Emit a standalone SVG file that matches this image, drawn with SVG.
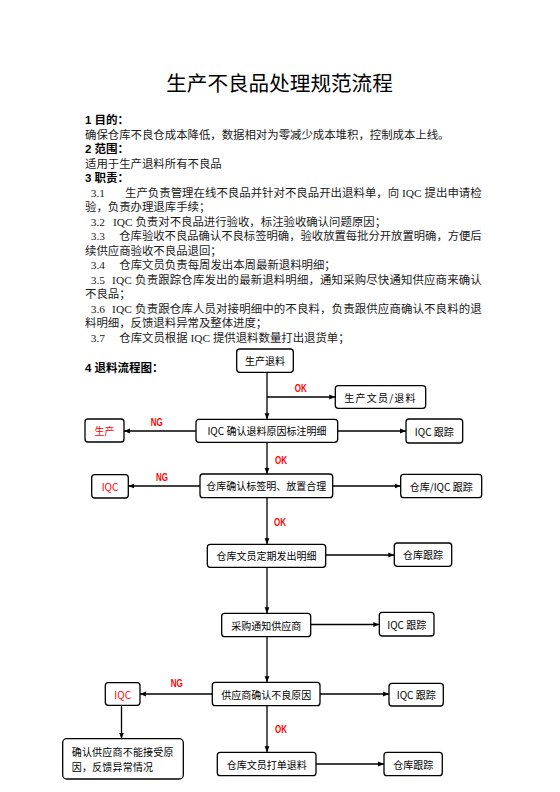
<svg xmlns="http://www.w3.org/2000/svg" width="560" height="792" viewBox="0 0 560 792">
<style>
.title{font-family:"Noto Sans CJK SC",sans-serif;font-size:20.6px;fill:#000;}
.h{font-family:"Liberation Sans","Noto Sans CJK SC",sans-serif;font-size:11.5px;font-weight:bold;fill:#000;}
.b{font-family:"Liberation Serif","Noto Sans CJK SC",serif;font-size:11.4px;fill:#1a1a1a;}
.box{fill:#fff;stroke:#000;stroke-width:1.3;}
.t{font-family:"Noto Sans CJK SC",sans-serif;font-size:10px;fill:#000;text-anchor:middle;dominant-baseline:central;}
.t.l{text-anchor:start;letter-spacing:0.2px;}
.red{fill:#ff0000;}
.lbl{font-family:"Liberation Sans",sans-serif;font-size:10.5px;font-weight:bold;fill:#ff0000;text-anchor:middle;dominant-baseline:central;}
.c{stroke:#000;stroke-width:1.3;fill:none;marker-end:url(#ah);}
</style>
<defs>
<marker id="ah" viewBox="0 0 10 10" refX="10" refY="5" markerUnits="userSpaceOnUse" markerWidth="6" markerHeight="6" orient="auto">
<path d="M0,1 L10,5 L0,9 Z" fill="#000"/>
</marker>
</defs>
<rect width="560" height="792" fill="#fff"/>

<text class="title" x="279.5" y="90.5" text-anchor="middle">生产不良品处理规范流程</text>

<g id="text-body">
<text class="h" x="85" y="124.3">1 目的：</text>
<text class="b" x="85" y="138.8">确保仓库不良仓成本降低，数据相对为零减少成本堆积，控制成本上线。</text>
<text class="h" x="85" y="153.3">2 范围：</text>
<text class="b" x="85" y="167.8">适用于生产退料所有不良品</text>
<text class="h" x="85" y="182.3">3 职责：</text>
<text class="b" x="90.7" y="196.8">3.1</text>
<text class="b" x="125" y="196.8" textLength="356.7" lengthAdjust="spacing">生产负责管理在线不良品并针对不良品开出退料单，向 IQC 提出申请检</text>
<text class="b" x="85" y="211.3">验，负责办理退库手续；</text>
<text class="b" x="90.7" y="225.8">3.2</text>
<text class="b" x="113" y="225.8">IQC 负责对不良品进行验收，标注验收确认问题原因；</text>
<text class="b" x="90.7" y="240.3">3.3</text>
<text class="b" x="119.3" y="240.3" textLength="362.4" lengthAdjust="spacingAndGlyphs">仓库验收不良品确认不良标签明确，验收放置每批分开放置明确，方便后</text>
<text class="b" x="85" y="254.8">续供应商验收不良品退回；</text>
<text class="b" x="90.7" y="269.3">3.4</text>
<text class="b" x="119.3" y="269.3">仓库文员负责每周发出本周最新退料明细；</text>
<text class="b" x="90.7" y="283.8">3.5</text>
<text class="b" x="112" y="283.8" textLength="369.7" lengthAdjust="spacing">IQC 负责跟踪仓库发出的最新退料明细，通知采购尽快通知供应商来确认</text>
<text class="b" x="85" y="298.3">不良品；</text>
<text class="b" x="90.7" y="312.8">3.6</text>
<text class="b" x="112" y="312.8" textLength="369.7" lengthAdjust="spacing">IQC 负责跟仓库人员对接明细中的不良料，负责跟供应商确认不良料的退</text>
<text class="b" x="85" y="327.3">料明细，反馈退料异常及整体进度；</text>
<text class="b" x="90.7" y="341.8">3.7</text>
<text class="b" x="119.3" y="341.8">仓库文员根据 IQC 提供退料数量打出退货单；</text>
<text class="h" x="85" y="372.3">4 退料流程图：</text>
</g>

<g id="connectors">
<line class="c" x1="267" y1="372.3" x2="267" y2="419.3"/>
<line class="c" x1="267" y1="397" x2="335.3" y2="397"/>
<line class="c" x1="196" y1="431" x2="124" y2="431"/>
<line class="c" x1="337.7" y1="431" x2="406" y2="431"/>
<line class="c" x1="267" y1="442.3" x2="267" y2="474"/>
<line class="c" x1="200" y1="486" x2="128.3" y2="486"/>
<line class="c" x1="332.7" y1="486" x2="400.7" y2="486"/>
<line class="c" x1="267" y1="497.7" x2="267" y2="544.3"/>
<line class="c" x1="325.7" y1="555" x2="394.3" y2="555"/>
<line class="c" x1="267" y1="567.3" x2="267" y2="613.3"/>
<line class="c" x1="310.7" y1="624.5" x2="379.3" y2="624.5"/>
<line class="c" x1="267" y1="636.7" x2="267" y2="682.3"/>
<line class="c" x1="212.3" y1="694" x2="140" y2="694"/>
<line class="c" x1="320" y1="694" x2="389" y2="694"/>
<line class="c" x1="121.5" y1="705.3" x2="121.5" y2="738.7"/>
<line class="c" x1="267" y1="705.7" x2="267" y2="752.3"/>
<line class="c" x1="316" y1="764" x2="384" y2="764"/>
<text class="lbl" x="300.7" y="387.7" textLength="12" lengthAdjust="spacingAndGlyphs">OK</text>
<text class="lbl" x="156.7" y="421.7" textLength="12" lengthAdjust="spacingAndGlyphs">NG</text>
<text class="lbl" x="281" y="460" textLength="12" lengthAdjust="spacingAndGlyphs">OK</text>
<text class="lbl" x="162" y="476.7" textLength="12" lengthAdjust="spacingAndGlyphs">NG</text>
<text class="lbl" x="280" y="521.7" textLength="12" lengthAdjust="spacingAndGlyphs">OK</text>
<text class="lbl" x="176.7" y="683.3" textLength="12" lengthAdjust="spacingAndGlyphs">NG</text>
<text class="lbl" x="281" y="729.3" textLength="12" lengthAdjust="spacingAndGlyphs">OK</text>
</g>

<g id="n-start"><rect class="box" x="236.7" y="349" width="56.6" height="23.3" rx="3"/><text class="t" x="265" y="360.7">生产退料</text></g>
<g id="n-clerk-return"><rect class="box" x="335.3" y="385.7" width="90.4" height="22.6" rx="3"/><text class="t" x="380.5" y="397" letter-spacing="1.2">生产文员/退料</text></g>
<g id="n-iqc-confirm"><rect class="box" x="196" y="419.3" width="141.7" height="23" rx="3"/><text class="t" x="266.9" y="430.8">IQC 确认退料原因标注明细</text></g>
<g id="n-iqc-track1"><rect class="box" x="406" y="419" width="56.7" height="24" rx="3"/><text class="t" x="434.3" y="431">IQC 跟踪</text></g>
<g id="n-production"><rect class="box" x="85" y="419" width="39" height="23" rx="3"/><text class="t red" x="104.5" y="430.5">生产</text></g>
<g id="n-wh-confirm"><rect class="box" x="200" y="474" width="132.7" height="23.7" rx="3"/><text class="t" x="266.3" y="485.8">仓库确认标签明、放置合理</text></g>
<g id="n-wh-iqc-track"><rect class="box" x="400.7" y="474.3" width="81" height="23.4" rx="3"/><text class="t" x="441.2" y="486">仓库/IQC 跟踪</text></g>
<g id="n-iqc-ng1"><rect class="box" x="91.7" y="474.7" width="36.6" height="23.3" rx="3"/><text class="t red" x="110" y="486.3">IQC</text></g>
<g id="n-wh-detail"><rect class="box" x="207.3" y="544.3" width="118.4" height="23" rx="3"/><text class="t" x="266.5" y="555.8">仓库文员定期发出明细</text></g>
<g id="n-wh-track1"><rect class="box" x="394.3" y="543" width="57.4" height="23.3" rx="3"/><text class="t" x="423" y="554.7">仓库跟踪</text></g>
<g id="n-purchase"><rect class="box" x="221.7" y="613.3" width="89" height="23.4" rx="3"/><text class="t" x="266.2" y="625">采购通知供应商</text></g>
<g id="n-iqc-track2"><rect class="box" x="379.3" y="612.3" width="54.7" height="23.7" rx="3"/><text class="t" x="406.7" y="624.2">IQC 跟踪</text></g>
<g id="n-supplier"><rect class="box" x="212.3" y="682.3" width="107.7" height="23.4" rx="3"/><text class="t" x="266.2" y="694">供应商确认不良原因</text></g>
<g id="n-iqc-track3"><rect class="box" x="389" y="683.3" width="54.3" height="22.7" rx="3"/><text class="t" x="416.2" y="694.7">IQC 跟踪</text></g>
<g id="n-iqc-ng2"><rect class="box" x="105.3" y="682.7" width="34.7" height="22.6" rx="3"/><text class="t red" x="122.7" y="694">IQC</text></g>
<g id="n-feedback"><rect class="box" x="62.7" y="738.7" width="120.6" height="40.3" rx="4"/><text class="t l" x="71.7" y="751">确认供应商不能接受原</text><text class="t l" x="71.7" y="766.7">因，反馈异常情况</text></g>
<g id="n-print"><rect class="box" x="217.3" y="752.3" width="98.7" height="23.4" rx="3"/><text class="t" x="266.7" y="764">仓库文员打单退料</text></g>
<g id="n-wh-track2"><rect class="box" x="384" y="752.3" width="58.3" height="23.4" rx="3"/><text class="t" x="413.2" y="764">仓库跟踪</text></g>
</svg>
